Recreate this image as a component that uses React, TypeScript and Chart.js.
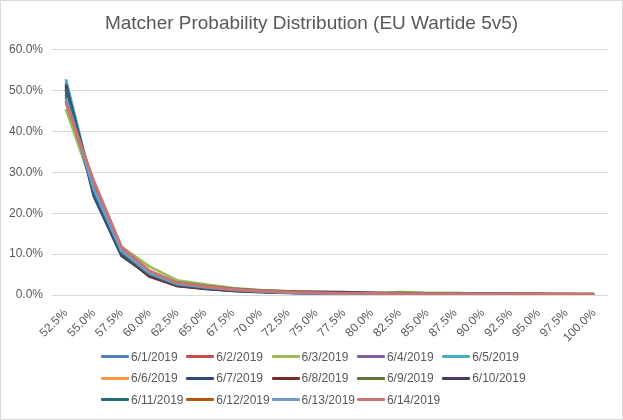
import React, { useEffect, useRef } from "react";
import { Chart, registerables } from "chart.js";

Chart.register(...registerables);

const categories = ["52.5%","55.0%","57.5%","60.0%","62.5%","65.0%","67.5%","70.0%","72.5%","75.0%","77.5%","80.0%","82.5%","85.0%","87.5%","90.0%","92.5%","95.0%","97.5%","100.0%"];

const seriesNames = ["6/1/2019","6/2/2019","6/3/2019","6/4/2019","6/5/2019","6/6/2019","6/7/2019","6/8/2019","6/9/2019","6/10/2019","6/11/2019","6/12/2019","6/13/2019","6/14/2019"];

const seriesColors = ["#4F81BD","#C0504D","#9BBB59","#8064A2","#4BACC6","#F79646","#2C4D75","#772C2A","#5F7530","#4D3B62","#276A7C","#B65708","#729ACA","#CD7371"];

const d0601 = [52.0, 25.0, 10.0, 5.0, 2.4, 1.6, 1.1, 0.8, 0.6, 0.5, 0.4, 0.4, 0.3, 0.3, 0.3, 0.2, 0.2, 0.2, 0.2, 0.1];
const d0602 = [48.5, 26.5, 11.0, 5.6, 2.8, 2.0, 1.4, 1.0, 0.7, 0.5, 0.4, 0.4, 0.4, 0.3, 0.3, 0.2, 0.2, 0.2, 0.2, 0.1];
const d0603 = [45.5, 26.0, 11.8, 7.0, 3.6, 2.6, 1.7, 1.2, 0.9, 0.6, 0.5, 0.4, 0.7, 0.5, 0.5, 0.3, 0.2, 0.2, 0.2, 0.3];
const d0604 = [49.5, 26.8, 10.8, 5.8, 3.0, 2.2, 1.5, 1.1, 0.9, 0.8, 0.7, 0.5, 0.4, 0.3, 0.3, 0.2, 0.2, 0.2, 0.1, 0.1];
const d0605 = [52.8, 25.5, 10.2, 5.2, 2.5, 1.8, 1.2, 0.8, 0.6, 0.4, 0.3, 0.3, 0.3, 0.2, 0.2, 0.2, 0.1, 0.1, 0.1, 0.1];
const d0606 = [48.0, 26.8, 11.0, 5.8, 3.0, 2.1, 1.4, 0.9, 0.8, 0.6, 0.4, 0.4, 0.3, 0.3, 0.2, 0.2, 0.2, 0.2, 0.2, 0.1];
const d0607 = [51.5, 24.2, 9.6, 4.8, 2.2, 1.6, 1.0, 0.7, 0.5, 0.4, 0.3, 0.3, 0.3, 0.2, 0.2, 0.2, 0.1, 0.1, 0.1, 0.1];
const d0608 = [51.0, 25.5, 10.0, 4.5, 2.2, 1.5, 1.1, 0.8, 0.6, 0.5, 0.4, 0.4, 0.3, 0.3, 0.2, 0.2, 0.2, 0.2, 0.1, 0.1];
const d0609 = [49.0, 26.2, 10.6, 5.6, 3.0, 2.2, 1.5, 1.1, 0.8, 0.6, 0.5, 0.4, 0.5, 0.4, 0.4, 0.2, 0.2, 0.2, 0.2, 0.2];
const d0610 = [50.2, 25.8, 10.4, 5.2, 2.6, 1.8, 1.2, 0.9, 0.7, 0.6, 0.6, 0.5, 0.3, 0.3, 0.2, 0.2, 0.2, 0.1, 0.1, 0.1];
const d0611 = [50.5, 25.2, 10.2, 5.0, 2.5, 1.7, 1.2, 0.8, 0.6, 0.5, 0.4, 0.3, 0.3, 0.3, 0.2, 0.2, 0.2, 0.1, 0.1, 0.1];
const d0612 = [47.5, 27.0, 11.2, 5.6, 2.9, 2.0, 1.3, 0.9, 0.7, 0.5, 0.4, 0.4, 0.3, 0.3, 0.2, 0.2, 0.2, 0.2, 0.1, 0.1];
const d0613 = [48.2, 26.0, 10.8, 5.4, 2.7, 1.9, 1.3, 0.9, 0.6, 0.4, 0.3, 0.3, 0.3, 0.3, 0.3, 0.2, 0.2, 0.2, 0.2, 0.2];
const d0614 = [47.0, 28.0, 11.8, 6.0, 3.0, 2.1, 1.4, 1.0, 0.7, 0.5, 0.4, 0.4, 0.3, 0.3, 0.3, 0.2, 0.2, 0.2, 0.2, 0.2];

const seriesValues = [d0601, d0602, d0603, d0604, d0605, d0606, d0607, d0608, d0609, d0610, d0611, d0612, d0613, d0614];

const yMin = 0;
const yMax = 60;
const yStep = 10;

const titleText = "Matcher Probability Distribution (EU Wartide 5v5)";
const FONT = "'Liberation Sans', Arial, sans-serif";
const TEXT = "#595959";

export default function App() {
  const ref = useRef<HTMLCanvasElement | null>(null);

  useEffect(() => {
    document.body.style.margin = "0";
    const ctx = ref.current;
    if (!ctx) return;
    const chart = new Chart(ctx, {
      type: "line",
      data: {
        labels: categories,
        datasets: seriesNames.map((name, i) => ({
          label: name,
          data: seriesValues[i],
          borderColor: seriesColors[i],
          backgroundColor: seriesColors[i],
          borderWidth: 2.75,
          pointRadius: 0,
          tension: 0,
          fill: false,
          order: seriesNames.length - i,
        })),
      },
      options: {
        animation: false,
        responsive: false,
        devicePixelRatio: 1,
        layout: { padding: { left: 0, right: 0, top: 0, bottom: 75 } },
        plugins: {
          legend: { display: false },
          tooltip: { enabled: false },
          title: {
            display: true,
            text: titleText,
            color: TEXT,
            font: { family: FONT, size: 19, weight: "normal" },
            padding: { top: 12, bottom: 15 },
          },
        },
        scales: {
          x: {
            offset: true,
            grid: { display: false, drawTicks: false },
            border: { display: false },
            ticks: {
              color: TEXT,
              font: { family: FONT, size: 12 },
              minRotation: 45,
              maxRotation: 45,
              autoSkip: false,
              padding: 11,
            },
            afterFit: (s: any) => { s.height = 50; },
          },
          y: {
            min: yMin,
            max: yMax,
            grid: { color: "#d9d9d9", drawTicks: false, lineWidth: 1 },
            border: { display: false },
            ticks: {
              stepSize: yStep,
              color: TEXT,
              font: { family: FONT, size: 12 },
              padding: 9,
              callback: (v: any) => Number(v).toFixed(1) + "%",
            },
            afterFit: (s: any) => { s.width = 52; },
          },
          yRight: {
            position: "right",
            min: yMin,
            max: yMax,
            grid: { display: false, drawTicks: false },
            border: { display: false },
            ticks: { display: false },
            afterFit: (s: any) => { s.width = 15; },
          },
        },
      },
    });
    return () => chart.destroy();
  }, []);

  return (
    <div style={{ position: "relative", width: 623, height: 420, boxSizing: "border-box", border: "1px solid #d9d9d9", background: "#fff", overflow: "hidden" }}>
      <canvas ref={ref} width={623} height={420} style={{ position: "absolute", left: -1, top: -1, width: 623, height: 420 }} />
      <div style={{ position: "absolute", left: 100, top: 345, display: "grid", gridTemplateColumns: "repeat(5, 85.3px)", gridAutoRows: "21.5px", fontFamily: FONT, fontSize: 12, color: TEXT }}>
        {seriesNames.map((name, i) => (
          <div key={name} style={{ display: "flex", alignItems: "center", whiteSpace: "nowrap" }}>
            <span style={{ display: "inline-block", width: 28, height: 3, background: seriesColors[i], marginRight: 2, borderRadius: 1 }} />
            <span>{name}</span>
          </div>
        ))}
      </div>
    </div>
  );
}
